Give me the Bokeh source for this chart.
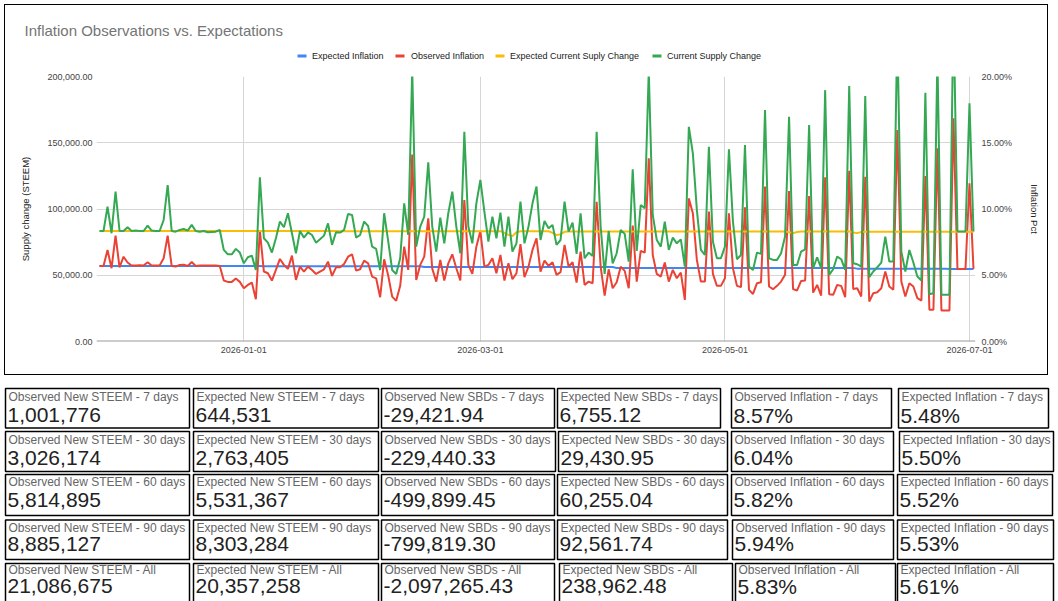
import datetime as dt
from bokeh.plotting import figure
from bokeh.models import (ColumnDataSource, Range1d, LinearAxis, NumeralTickFormatter,
                          FixedTicker, DatetimeTickFormatter, Span, InlineStyleSheet)
from bokeh.layouts import column
from bokeh.embed import file_html
from bokeh.resources import INLINE
from bokeh.core.properties import value

FONT = "Liberation Sans"

# ---------------- data ----------------
first_day = dt.datetime(2025, 11, 26)

# Current Supply Change (thousand STEEM per day)
current_supply_k = [
    83.4, 83.4, 101.8, 81.7, 113.1, 83.4, 83.4, 86.2, 83.4, 83.7,
    83.4, 83.4, 87.5, 83.7, 83.4, 83.4, 91.7, 118.1, 83.4, 82.9,
    84.2, 84.9, 83.7, 88.0, 83.4, 82.9, 83.4, 82.4, 82.7, 82.9,
    84.2, 69.1, 65.8, 65.8, 69.9, 67.1, 59.0, 63.6, 64.8, 54.0,
    123.9, 77.9, 74.6, 67.1, 77.9, 90.5, 86.2, 96.8, 81.7, 66.6,
    83.4, 78.4, 82.4, 80.4, 74.6, 77.1, 79.9, 89.2, 72.9, 82.4,
    82.2, 84.2, 96.2, 95.5, 78.4, 80.4, 90.5, 87.2, 71.6, 69.9,
    54.0, 96.8, 76.0, 54.0, 51.0, 62.8, 104.3, 80.4, 205.0, 71.6,
    86.7, 94.2, 135.2, 86.7, 67.9, 93.5, 74.1, 96.8, 113.1, 86.7,
    66.6, 158.3, 86.7, 74.1, 104.3, 121.9, 98.0, 75.4, 94.2, 77.9,
    97.3, 71.6, 94.2, 67.9, 74.1, 105.5, 74.1, 86.7, 104.3, 116.9,
    76.6, 91.0, 85.4, 88.0, 72.9, 76.6, 105.5, 82.9, 89.7, 66.1,
    96.8, 62.8, 67.1, 64.6, 158.3, 86.7, 51.0, 83.4, 59.0, 66.6,
    84.2, 81.2, 60.3, 129.9, 68.4, 103.0, 100.5, 204.0, 95.5, 76.6,
    71.6, 90.5, 69.1, 78.4, 74.1, 77.1, 56.5, 162.0, 142.0, 99.3,
    69.1, 65.3, 147.0, 75.4, 62.8, 62.8, 71.6, 145.0, 90.5, 62.1,
    65.3, 148.3, 56.5, 54.0, 67.1, 66.1, 174.7, 62.8, 61.6, 61.6,
    66.6, 79.2, 169.6, 57.8, 57.8, 67.9, 69.6, 163.3, 55.3, 63.6,
    55.3, 189.7, 50.3, 54.5, 64.1, 62.1, 54.0, 192.8, 59.0, 58.3,
    56.5, 185.2, 48.5, 52.8, 56.0, 59.6, 79.2, 60.3, 60.3, 235.0,
    67.9, 52.8, 69.1, 59.6, 49.0, 46.0, 187.7, 35.7, 36.4, 215.0,
    35.2, 35.2, 35.2, 250.0, 83.0, 83.0, 83.0, 179.7, 83.0,
]

# Expected Current Supply Change (thousand STEEM per day)
expected_supply_k = [
    83.4, 83.4, 83.4, 83.4, 83.4, 83.4, 83.4, 83.4, 83.4, 83.4,
    83.4, 83.4, 83.4, 83.4, 83.4, 83.4, 83.4, 83.4, 83.4, 83.4,
    83.4, 83.4, 83.4, 83.4, 83.4, 83.4, 83.4, 83.4, 83.4, 83.4,
    83.4, 83.4, 83.4, 83.4, 83.4, 83.4, 83.4, 83.4, 83.4, 83.4,
    83.4, 83.4, 83.4, 83.4, 83.4, 83.4, 83.4, 83.4, 83.4, 83.4,
    83.4, 83.4, 83.4, 83.4, 83.4, 83.4, 83.4, 83.4, 83.4, 83.4,
    83.3, 83.3, 83.3, 83.3, 83.3, 83.3, 83.3, 83.3, 83.3, 83.3,
    83.3, 83.3, 83.3, 83.3, 83.3, 83.3, 83.3, 83.3, 83.3, 83.3,
    83.3, 83.3, 83.3, 83.3, 83.3, 83.3, 83.3, 83.3, 83.3, 83.3,
    83.3, 83.3, 83.3, 83.3, 83.3, 83.3, 83.3, 83.3, 83.3, 83.3,
    83.3, 82.0, 80.5, 79.5, 82.5, 83.2, 83.2, 83.2, 83.2, 83.2,
    83.2, 83.2, 83.2, 82.0, 80.3, 81.0, 82.8, 83.1, 83.1, 83.1,
    83.1, 83.1, 83.1, 83.1, 83.1, 83.1, 83.1, 83.1, 83.1, 83.1,
    83.1, 83.1, 83.1, 83.1, 83.1, 83.1, 83.1, 83.1, 83.1, 83.1,
    83.1, 83.1, 83.1, 83.1, 83.1, 83.1, 83.1, 83.1, 83.1, 83.1,
    83.1, 83.1, 83.1, 83.1, 83.1, 83.1, 83.1, 83.1, 83.1, 83.1,
    83.1, 83.1, 83.1, 83.1, 83.1, 83.1, 83.1, 83.1, 83.1, 83.1,
    83.1, 83.1, 82.5, 81.8, 82.6, 83.0, 83.0, 83.0, 83.0, 83.0,
    83.0, 83.0, 83.0, 83.0, 83.0, 83.0, 83.0, 83.0, 82.3, 81.8,
    82.6, 82.9, 82.9, 82.9, 82.9, 82.9, 82.9, 82.9, 82.9, 82.9,
    82.9, 82.9, 82.9, 82.9, 82.9, 82.9, 82.9, 82.9, 82.9, 82.9,
    82.9, 82.9, 82.9, 82.9, 82.9, 82.9, 82.9, 82.9, 82.9,
]

# Observed Inflation (%)
observed_inflation_pct = [
    5.70, 5.70, 6.90, 5.53, 7.99, 5.60, 6.40, 5.96, 5.73, 5.73,
    5.75, 5.73, 5.98, 5.73, 5.73, 5.73, 6.28, 7.99, 5.70, 5.65,
    5.78, 5.80, 5.70, 6.00, 5.70, 5.73, 5.73, 5.73, 5.73, 5.73,
    5.70, 4.60, 4.50, 4.50, 4.75, 4.50, 4.02, 4.27, 4.45, 3.19,
    8.37, 5.28, 5.15, 4.60, 5.40, 6.23, 5.78, 5.48, 6.48, 4.65,
    5.65, 5.28, 5.65, 5.40, 5.10, 5.28, 5.45, 6.03, 4.95, 5.60,
    5.60, 5.85, 6.40, 6.58, 5.35, 5.45, 6.10, 5.90, 4.90, 4.77,
    3.34, 6.20, 5.00, 3.39, 3.07, 4.20, 7.16, 5.40, 14.12, 4.65,
    5.78, 6.41, 9.30, 5.50, 4.52, 6.16, 4.60, 5.90, 6.58, 5.53,
    4.60, 10.68, 5.78, 5.10, 7.16, 8.34, 5.65, 5.78, 6.28, 5.15,
    6.53, 4.60, 5.90, 4.70, 5.15, 7.34, 4.85, 5.65, 6.91, 7.79,
    5.28, 6.10, 5.70, 5.98, 5.03, 5.23, 7.29, 5.65, 5.98, 4.45,
    6.79, 4.27, 4.52, 4.40, 10.55, 5.65, 3.47, 5.45, 4.02, 4.47,
    5.65, 5.33, 4.02, 8.75, 4.52, 6.84, 6.71, 13.82, 6.53, 5.10,
    4.90, 5.96, 4.52, 5.40, 4.77, 5.20, 3.14, 10.80, 9.68, 6.16,
    4.52, 4.52, 9.80, 5.10, 4.20, 4.20, 4.77, 9.68, 5.53, 4.20,
    4.10, 10.13, 3.90, 3.59, 4.40, 4.47, 11.69, 4.15, 3.95, 4.20,
    4.52, 5.03, 11.36, 3.95, 3.85, 4.57, 4.60, 10.98, 3.69, 4.27,
    3.47, 12.39, 3.57, 3.52, 4.27, 4.20, 3.34, 12.89, 3.97, 4.02,
    3.39, 12.44, 3.02, 3.64, 3.72, 4.02, 5.28, 4.15, 3.90, 15.96,
    4.52, 3.39, 4.40, 4.15, 3.27, 3.09, 12.49, 2.39, 2.39, 14.58,
    2.34, 2.34, 2.34, 16.84, 5.48, 5.48, 5.48, 11.94, 5.48,
]

# Expected Inflation (%)
expected_inflation_pct = [
    5.70, 5.70, 5.70, 5.70, 5.70, 5.70, 5.70, 5.70, 5.70, 5.70,
    5.70, 5.70, 5.70, 5.70, 5.70, 5.70, 5.70, 5.70, 5.70, 5.70,
    5.70, 5.70, 5.70, 5.70, 5.70, 5.70, 5.70, 5.70, 5.70, 5.70,
    5.70, 5.70, 5.70, 5.70, 5.70, 5.70, 5.70, 5.70, 5.70, 5.70,
    5.70, 5.68, 5.68, 5.68, 5.68, 5.68, 5.68, 5.68, 5.68, 5.68,
    5.68, 5.68, 5.68, 5.68, 5.68, 5.68, 5.68, 5.68, 5.68, 5.68,
    5.68, 5.68, 5.68, 5.68, 5.68, 5.68, 5.68, 5.68, 5.68, 5.68,
    5.68, 5.68, 5.68, 5.68, 5.68, 5.68, 5.68, 5.68, 5.68, 5.68,
    5.68, 5.62, 5.62, 5.62, 5.62, 5.62, 5.62, 5.62, 5.62, 5.62,
    5.62, 5.62, 5.62, 5.62, 5.62, 5.62, 5.62, 5.62, 5.62, 5.62,
    5.62, 5.62, 5.62, 5.62, 5.62, 5.62, 5.62, 5.62, 5.62, 5.62,
    5.62, 5.62, 5.62, 5.62, 5.62, 5.62, 5.62, 5.62, 5.62, 5.62,
    5.62, 5.62, 5.62, 5.62, 5.62, 5.62, 5.62, 5.62, 5.62, 5.55,
    5.55, 5.55, 5.55, 5.55, 5.55, 5.55, 5.55, 5.55, 5.55, 5.55,
    5.55, 5.55, 5.55, 5.55, 5.55, 5.55, 5.55, 5.55, 5.55, 5.55,
    5.55, 5.55, 5.55, 5.55, 5.55, 5.55, 5.55, 5.55, 5.55, 5.54,
    5.54, 5.54, 5.54, 5.54, 5.54, 5.54, 5.54, 5.54, 5.54, 5.54,
    5.54, 5.54, 5.54, 5.54, 5.54, 5.54, 5.54, 5.54, 5.54, 5.54,
    5.54, 5.54, 5.54, 5.54, 5.54, 5.54, 5.54, 5.54, 5.54, 5.50,
    5.50, 5.50, 5.50, 5.50, 5.50, 5.50, 5.50, 5.50, 5.50, 5.50,
    5.50, 5.50, 5.50, 5.50, 5.50, 5.50, 5.50, 5.50, 5.50, 5.50,
    5.50, 5.50, 5.48, 5.48, 5.48, 5.48, 5.48, 5.48, 5.48,
]

chart_title = "Inflation Observations vs. Expectations"
series_names = ["Expected Inflation", "Observed Inflation",
                "Expected Current Suply Change", "Current Supply Change"]
series_colors = ["#4285F4", "#EA4335", "#FBBC04", "#34A853"]

left_ticks = [0, 50000, 100000, 150000, 200000]
right_ticks = [0.0, 0.05, 0.10, 0.15, 0.20]
date_ticks = [dt.datetime(2026, 1, 1), dt.datetime(2026, 3, 1),
              dt.datetime(2026, 5, 1), dt.datetime(2026, 7, 1)]

metrics = ["Observed New STEEM", "Expected New STEEM", "Observed New SBDs",
           "Expected New SBDs", "Observed Inflation", "Expected Inflation"]
periods = ["7 days", "30 days", "60 days", "90 days", "All"]
box_values = [
    ["1,001,776", "644,531", "-29,421.94", "6,755.12", "8.57%", "5.48%"],
    ["3,026,174", "2,763,405", "-229,440.33", "29,430.95", "6.04%", "5.50%"],
    ["5,814,895", "5,531,367", "-499,899.45", "60,255.04", "5.82%", "5.52%"],
    ["8,885,127", "8,303,284", "-799,819.30", "92,561.74", "5.94%", "5.53%"],
    ["21,086,675", "20,357,258", "-2,097,265.43", "238,962.48", "5.83%", "5.61%"],
]


def no_align(fig):
    if "frame_align" in fig.properties():
        fig.frame_align = False


# ---------------- title + legend strip ----------------
t = figure(width=1058, height=70, x_range=Range1d(0, 1058), y_range=Range1d(70, 0),
           output_backend="svg", toolbar_location=None,
           x_axis_location=None, y_axis_location=None, min_border=0)
t.grid.visible = False
t.outline_line_color = None
no_align(t)
t.text(x=[24], y=[30.3], text=[chart_title], text_font=value(FONT),
       text_font_size=value("15px"), text_color="#757575", text_baseline="middle")
sw_x = [297, 395, 495, 652]
tx_x = [311.5, 410.5, 509.5, 666.5]
t.quad(left=sw_x, right=[s + 9 for s in sw_x], top=[54] * 4, bottom=[57] * 4,
       fill_color=series_colors, line_color=None)
t.text(x=tx_x, y=[55.3] * 4, text=series_names, text_font=value(FONT),
       text_font_size=value("9px"), text_color="#222222", text_baseline="middle")

# ---------------- chart ----------------
n = len(current_supply_k)
dates = [first_day + dt.timedelta(days=i) for i in range(n)]
src = ColumnDataSource(dict(
    date=dates,
    supply=[v * 1000 for v in current_supply_k],
    exp_supply=[v * 1000 for v in expected_supply_k],
    obs=[v / 100 for v in observed_inflation_pct],
    exp=[v / 100 for v in expected_inflation_pct],
))

p = figure(width=1058, height=310, x_axis_type="datetime",
           x_range=Range1d(dt.datetime(2025, 11, 25, 6), dt.datetime(2026, 7, 2, 12)),
           y_range=Range1d(0, 200000),
           output_backend="svg", toolbar_location=None,
           min_border_left=96, min_border_right=83, min_border_top=6, min_border_bottom=39)
no_align(p)
p.extra_y_ranges = {"pct": Range1d(0, 0.20)}
p.outline_line_color = None

ax_l = p.yaxis[0]
ax_l.ticker = FixedTicker(ticks=left_ticks)
ax_l.formatter = NumeralTickFormatter(format="0,0.00")
ax_l.axis_label = "Supply change (STEEM)"
ax_l.axis_label_standoff = 13

ax_r = LinearAxis(y_range_name="pct", ticker=FixedTicker(ticks=right_ticks),
                  formatter=NumeralTickFormatter(format="0.00%"), axis_label="Inflation Pct")
ax_r.axis_label_standoff = 14
p.add_layout(ax_r, "right")

ax_b = p.xaxis[0]
ax_b.ticker = FixedTicker(ticks=[d.timestamp() * 1000 for d in date_ticks])
fmt = "%Y-%m-%d"
ax_b.formatter = DatetimeTickFormatter(days=fmt, months=fmt, years=fmt, hours=fmt,
                                       minutes=fmt, seconds=fmt, milliseconds=fmt,
                                       microseconds=fmt, hourmin=fmt, minsec=fmt)

for ax in [ax_l, ax_r, ax_b]:
    ax.axis_line_color = None
    ax.major_tick_line_color = None
    ax.minor_tick_line_color = None
    ax.major_tick_out = 0
    ax.major_tick_in = 0
    ax.major_label_standoff = 5
    ax.major_label_text_font = FONT
    ax.major_label_text_font_size = "9px"
    ax.major_label_text_color = "#444444"
    ax.axis_label_text_font = FONT
    ax.axis_label_text_font_size = "9.5px"
    ax.axis_label_text_font_style = "normal"
    ax.axis_label_text_color = "#222222"
ax_l.major_label_standoff = 4
ax_r.major_label_standoff = 6

p.ygrid.ticker = FixedTicker(ticks=left_ticks)
p.ygrid.grid_line_color = "#d6d6d6"
p.xgrid.ticker = FixedTicker(ticks=[d.timestamp() * 1000 for d in date_ticks])
p.xgrid.grid_line_color = "#d6d6d6"
p.add_layout(Span(location=0, dimension="width", line_color="#999999", line_width=2))

p.line("date", "exp", source=src, y_range_name="pct", color=series_colors[0], line_width=2)
p.line("date", "obs", source=src, y_range_name="pct", color=series_colors[1], line_width=2)
p.line("date", "exp_supply", source=src, color=series_colors[2], line_width=2)
p.line("date", "supply", source=src, color=series_colors[3], line_width=2)

# ---------------- summary boxes ----------------
q = figure(width=1058, height=221, x_range=Range1d(0, 1058), y_range=Range1d(601, 380),
           output_backend="svg", toolbar_location=None,
           x_axis_location=None, y_axis_location=None, min_border=0)
q.grid.visible = False
q.outline_line_color = None
no_align(q)

row_top = [388, 431, 474, 519.5, 563]
row_bot = [427.5, 471, 515, 559, 604]
col_edges = [
    [(5, 189), (193, 378), (381, 554), (557, 720), (731, 891), (898, 1048)],
    [(5, 189), (193, 378), (381, 555), (558, 727), (731, 893), (899, 1053)],
    [(5, 189), (193, 378), (381, 554), (557, 727), (731, 893), (897, 1052)],
    [(5, 189), (193, 378), (381, 554), (557, 727), (732, 893), (897, 1053)],
    [(5, 189), (193, 378), (381, 554), (559, 732), (735, 895), (897, 1053)],
]
label_mid = [396.8, 439.3, 481.5, 527.2, 569.8]
value_mid = [414.9, 457.2, 499.4, 543.3, 585.7]

L, R, T, B = [], [], [], []
lx, ly, lt, vx, vy, vt = [], [], [], [], [], []
for r, period in enumerate(periods):
    for c, metric in enumerate(metrics):
        l, rr = col_edges[r][c]
        L.append(l); R.append(rr); T.append(row_top[r]); B.append(row_bot[r])
        lx.append(l + 3); ly.append(label_mid[r]); lt.append(f"{metric} - {period}")
        vx.append(l + 2); vy.append(value_mid[r]); vt.append(box_values[r][c])

q.quad(left=L, right=R, top=T, bottom=B, fill_color=None, line_color="black", line_width=1.5)
q.text(x=lx, y=ly, text=lt, text_font=value(FONT), text_font_size=value("12px"),
       text_color="#666666", text_baseline="middle")
q.text(x=vx, y=vy, text=vt, text_font=value(FONT), text_font_size=value("21px"),
       text_color="#222222", text_baseline="middle")

border_css = InlineStyleSheet(css=(
    ":host::after { content: ''; position: absolute; left: 4px; top: 4px; "
    "width: 1044px; height: 371px; box-sizing: border-box; border: 1.5px solid #000; "
    "pointer-events: none; z-index: 10; }"))
chart = column(t, p, spacing=0, stylesheets=[border_css])
layout = column(chart, q, spacing=0)
open("out.html", "w").write(file_html(layout, INLINE))
